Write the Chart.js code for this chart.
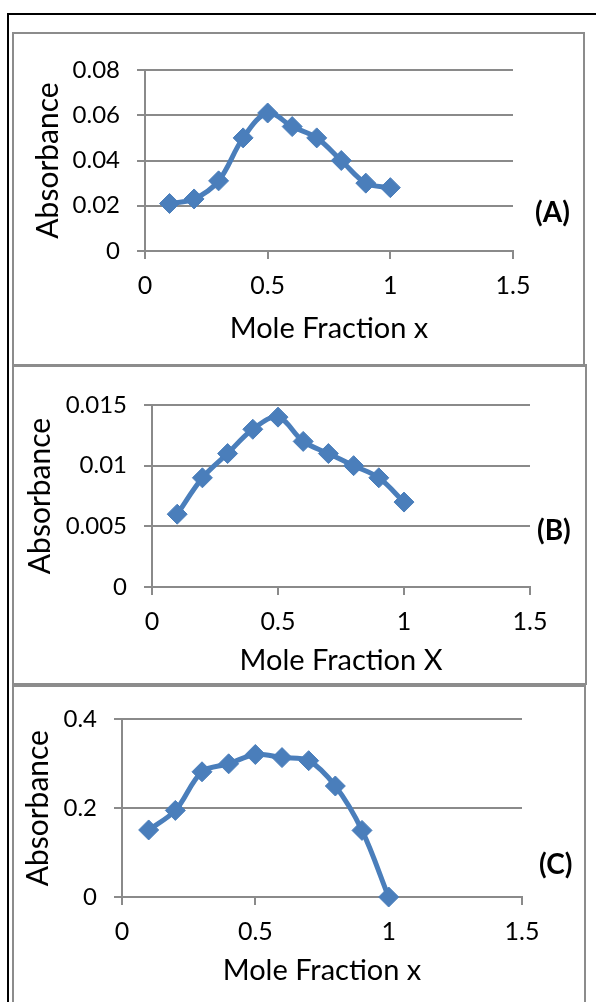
<!DOCTYPE html>
<html>
<head>
<meta charset="utf-8">
<script src="https://cdn.jsdelivr.net/npm/chart.js@4"></script>
<style>
body { margin: 0; background: #fff; width: 596px; height: 1002px; overflow: hidden; position: relative; font-family: Lato, "Liberation Sans", sans-serif; }
.outer { position: absolute; left: 7px; top: 13px; width: 600px; height: 1000px; border: 2px solid #000; box-sizing: border-box; }
.panel { position: absolute; left: 12px; border: 2px solid #8c8c8c; box-sizing: border-box; }
canvas { position: absolute; left: 0; }
.tag { position: absolute; font: bold 28px Lato, "Liberation Sans", sans-serif; color: #000; }
</style>
</head>
<body>
<div class="outer"></div>
<div class="panel" style="top:32px;width:573px;height:335px"></div>
<div class="panel" style="top:364px;width:575px;height:321px"></div>
<div class="panel" style="top:685px;width:574px;height:330px"></div>
<canvas id="chartA" style="top:35px"></canvas>
<canvas id="chartB" style="top:367px"></canvas>
<canvas id="chartC" style="top:688px"></canvas>
<div class="tag" style="left:535px;top:194px">(A)</div>
<div class="tag" style="left:537px;top:512px">(B)</div>
<div class="tag" style="left:539px;top:846px">(C)</div>
<script>
const moleFraction = [0.1, 0.2, 0.3, 0.4, 0.5, 0.6, 0.7, 0.8, 0.9, 1.0]
const absorbanceA = [0.021, 0.023, 0.031, 0.050, 0.061, 0.055, 0.050, 0.040, 0.030, 0.028]
const absorbanceB = [0.006, 0.009, 0.011, 0.013, 0.014, 0.012, 0.011, 0.010, 0.009, 0.007]
const absorbanceC = [0.151, 0.195, 0.282, 0.300, 0.321, 0.314, 0.307, 0.250, 0.150, 0.0]
const xTickLabels = ['0', '0.5', '1', '1.5']
const yTickLabelsA = ['0', '0.02', '0.04', '0.06', '0.08']
const yTickLabelsB = ['0', '0.005', '0.01', '0.015']
const yTickLabelsC = ['0', '0.2', '0.4']

const blue = '#4a7ebb'
const gray = '#8a8a8a'
const font = 'Lato'

function makeChart(id, w, h, values, yMax, yStep, yLabels, xTitle, box) {
    const canvas = document.getElementById(id)
    canvas.width = w
    canvas.height = h
    canvas.style.width = w + 'px'
    canvas.style.height = h + 'px'
    return new Chart(canvas, {
        type: 'line',
        data: {
            datasets: [{
                data: moleFraction.map((x, i) => ({ x: x, y: values[i] })),
                borderColor: blue,
                backgroundColor: blue,
                borderWidth: 5,
                tension: 0.35,
                pointStyle: 'rectRot',
                pointRadius: 10,
                pointBorderWidth: 1,
                pointBackgroundColor: blue,
                pointBorderColor: blue,
                clip: false
            }]
        },
        options: {
            responsive: false,
            animation: false,
            devicePixelRatio: 1,
            layout: { padding: { top: box.top, right: box.right, left: 0, bottom: 0 } },
            plugins: { legend: { display: false }, tooltip: { enabled: false } },
            scales: {
                x: {
                    type: 'linear',
                    min: 0, max: 1.5,
                    afterFit: s => { s.height = box.xh },
                    ticks: {
                        stepSize: 0.5,
                        padding: 12,
                        color: '#000',
                        font: { family: font, size: 25 },
                        callback: (v, i) => xTickLabels[i]
                    },
                    grid: { drawOnChartArea: false, drawTicks: true, tickLength: 8, color: gray, lineWidth: 2 },
                    border: { color: gray, width: 2 },
                    title: {
                        display: true, text: xTitle, color: '#000',
                        font: { family: font, size: 29 },
                        padding: { top: 0, bottom: box.xtp }
                    }
                },
                y: {
                    min: 0, max: yMax,
                    afterFit: s => { s.width = box.left },
                    ticks: {
                        stepSize: yStep,
                        padding: 17,
                        color: '#000',
                        font: { family: font, size: 24 },
                        callback: (v, i) => yLabels[i]
                    },
                    grid: { color: gray, lineWidth: 2, tickLength: 8 },
                    border: { color: gray, width: 2 },
                    title: {
                        display: true, text: 'Absorbance', color: '#000',
                        font: { family: font, size: 30 },
                        padding: { top: box.ytp, bottom: 0 }
                    }
                }
            }
        }
    })
}

makeChart('chartA', 596, 328, absorbanceA, 0.08, 0.02, yTickLabelsA, 'Mole Fraction x',
    { top: 35, right: 83, left: 145, xh: 112, xtp: 17, ytp: 30 })
makeChart('chartB', 596, 315, absorbanceB, 0.015, 0.005, yTickLabelsB, 'Mole Fraction X',
    { top: 38, right: 66, left: 152, xh: 95, xtp: 4, ytp: 22 })
makeChart('chartC', 596, 314, absorbanceC, 0.4, 0.2, yTickLabelsC, 'Mole Fraction x',
    { top: 26, right: 74, left: 122, xh: 105, xtp: 14, ytp: 20 })
</script>
</body>
</html>
